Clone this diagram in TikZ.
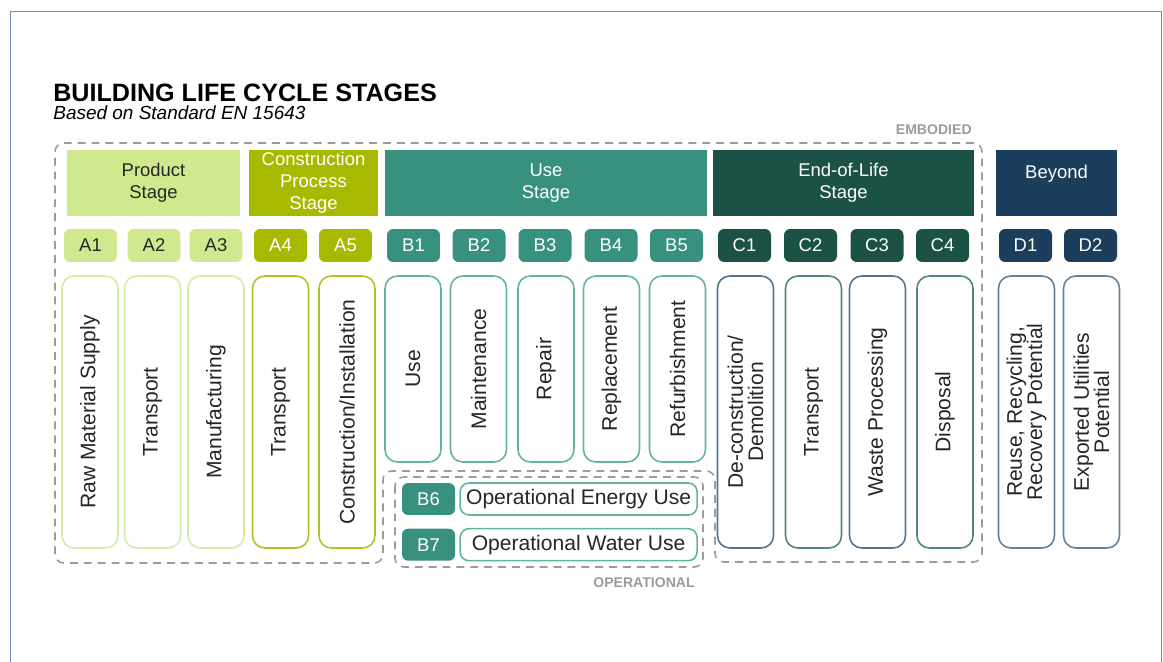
\documentclass[tikz,border=0pt]{standalone}
\usepackage{fontspec}
\setmainfont{Liberation Sans}
\usetikzlibrary{positioning}

\definecolor{prodgreen}{HTML}{D0E98E}
\definecolor{prodline}{HTML}{D5EBA6}
\definecolor{constrolive}{HTML}{A8BA00}
\definecolor{constrline}{HTML}{B0C225}
\definecolor{useteal}{HTML}{38917F}
\definecolor{useline}{HTML}{63B3A5}
\definecolor{eoldark}{HTML}{1C5245}
\definecolor{eolblue}{HTML}{557490}
\definecolor{eolgreen}{HTML}{4E8878}
\definecolor{beyondnavy}{HTML}{1B3E5C}
\definecolor{beyondline}{HTML}{62819B}
\definecolor{dashgray}{HTML}{9B9B9B}
\definecolor{framecol}{HTML}{6F8FAE}

\begin{document}
\begin{tikzpicture}[x=0.02cm, y=-0.02cm,
  head/.style={rectangle, minimum height=1.32cm, inner sep=0pt, align=center, text=white, font=\fontsize{10.5}{12.5}\selectfont},
  pill/.style={rectangle, rounded corners=3.5pt, minimum width=1.06cm, minimum height=0.66cm, inner sep=0pt, text=white, font=\fontsize{10.5}{12}\selectfont},
  prodpill/.style={pill, fill=prodgreen, text=black!85},
  constrpill/.style={pill, fill=constrolive},
  usepill/.style={pill, fill=useteal},
  eolpill/.style={pill, fill=eoldark},
  beyondpill/.style={pill, fill=beyondnavy},
  tallbox/.style={draw, line width=0.9pt, rounded corners=7pt, rotate=90, minimum width=5.44cm, minimum height=1.12cm, inner sep=0pt, align=center, text=black!85, font=\fontsize{12}{11.5}\selectfont},
  usebox/.style={tallbox, draw=useline, minimum width=3.72cm},
  opbox/.style={draw=useline, line width=0.9pt, rounded corners=5pt, minimum width=4.74cm, minimum height=0.64cm, inner sep=0pt, text=black!85, font=\fontsize{12}{13}\selectfont},
  envelope/.style={draw=dashgray, line width=0.9pt, dash pattern=on 4.5pt off 3.4pt, rounded corners=5pt},
  tag/.style={inner sep=0pt, text=dashgray, font=\fontsize{8}{9}\selectfont\bfseries}
]
\useasboundingbox (0,0) rectangle (1163,662);

% Frame
\draw[framecol, line width=0.6pt] (10.5,662) -- (10.5,11.5) -- (1161.5,11.5) -- (1161.5,662);

% Title
\node[anchor=base west, inner sep=0pt, font=\fontsize{14.3}{16}\selectfont\bfseries] (title) at (53,102) {BUILDING LIFE CYCLE STAGES};
\node[anchor=base west, inner sep=0pt, font=\fontsize{10.8}{12}\selectfont\itshape] (subtitle) at (53,120) {Based on Standard EN 15643};

% Stage headers
\node[head, fill=prodgreen, text=black!85, minimum width=3.46cm] (prod) at (153.5,183) {Product\\Stage};
\node[head, fill=constrolive, minimum width=2.58cm] (constr) at (313.5,183) {Construction\\Process\\Stage};
\node[head, fill=useteal, minimum width=6.44cm] (use) at (546,183) {Use\\Stage};
\node[head, fill=eoldark, minimum width=5.22cm] (eol) at (843.5,183) {End-of-Life\\Stage};
\node[head, fill=beyondnavy, minimum width=2.42cm] (beyond) at (1056.5,183) {Beyond\\\mbox{}};

% Module codes
\node[prodpill] (a1) at (90.5,245.5) {A1};
\node[prodpill] (a2) at (154,245.5) {A2};
\node[prodpill] (a3) at (216,245.5) {A3};
\node[constrpill] (a4) at (280.5,245.5) {A4};
\node[constrpill] (a5) at (345.5,245.5) {A5};
\node[usepill] (b1) at (413.5,245.5) {B1};
\node[usepill] (b2) at (479,245.5) {B2};
\node[usepill] (b3) at (545,245.5) {B3};
\node[usepill] (b4) at (611,245.5) {B4};
\node[usepill] (b5) at (676.5,245.5) {B5};
\node[eolpill] (c1) at (744.5,245.5) {C1};
\node[eolpill] (c2) at (810.5,245.5) {C2};
\node[eolpill] (c3) at (877,245.5) {C3};
\node[eolpill] (c4) at (942.5,245.5) {C4};
\node[beyondpill] (d1) at (1025.5,245.5) {D1};
\node[beyondpill] (d2) at (1090.5,245.5) {D2};

% Module boxes
\node[tallbox, draw=prodline] (a1box) at (90,412) {Raw Material Supply};
\node[tallbox, draw=prodline] (a2box) at (152.5,412) {Transport};
\node[tallbox, draw=prodline] (a3box) at (216,412) {Manufacturing};
\node[tallbox, draw=constrline] (a4box) at (280.5,412) {Transport};
\node[tallbox, draw=constrline] (a5box) at (347,412) {Construction/Installation};
\node[usebox] (b1box) at (413,369) {Use};
\node[usebox] (b2box) at (478.5,369) {Maintenance};
\node[usebox] (b3box) at (546,369) {Repair};
\node[usebox] (b4box) at (611.5,369) {Replacement};
\node[usebox] (b5box) at (677.5,369) {Refurbishment};
\node[tallbox, draw=eolblue] (c1box) at (745.5,412) {De-construction/\\Demolition};
\node[tallbox, draw=eolgreen] (c2box) at (813.5,412) {Transport};
\node[tallbox, draw=eolblue] (c3box) at (877.5,412) {Waste Processing};
\node[tallbox, draw=eolgreen] (c4box) at (945,412) {Disposal};
\node[tallbox, draw=beyondline] (d1box) at (1026.5,412) {Reuse, Recycling,\\Recovery Potential};
\node[tallbox, draw=beyondline] (d2box) at (1091.5,412) {Exported Utilities\\Potential};

% Operational modules
\node[usepill, minimum height=0.64cm] (b6) at (428.5,499) {B6};
\node[opbox, right=0.08cm of b6] (b6box) {Operational Energy Use};
\node[usepill, minimum height=0.64cm, below=0.26cm of b6] (b7) {B7};
\node[opbox, right=0.08cm of b7] (b7box) {Operational Water Use};

% Envelopes
\draw[envelope] (55,143) -- (982,143) -- (982,562) -- (715,562) -- (715,471) -- (383,471) -- (383,563) -- (55,563) -- cycle;
\draw[envelope] (395,477) rectangle (703,567);
\node[tag, anchor=base east] (embodied) at (972,135) {EMBODIED};
\node[tag, anchor=base east] (operational) at (695,587) {OPERATIONAL};
\end{tikzpicture}
\end{document}
